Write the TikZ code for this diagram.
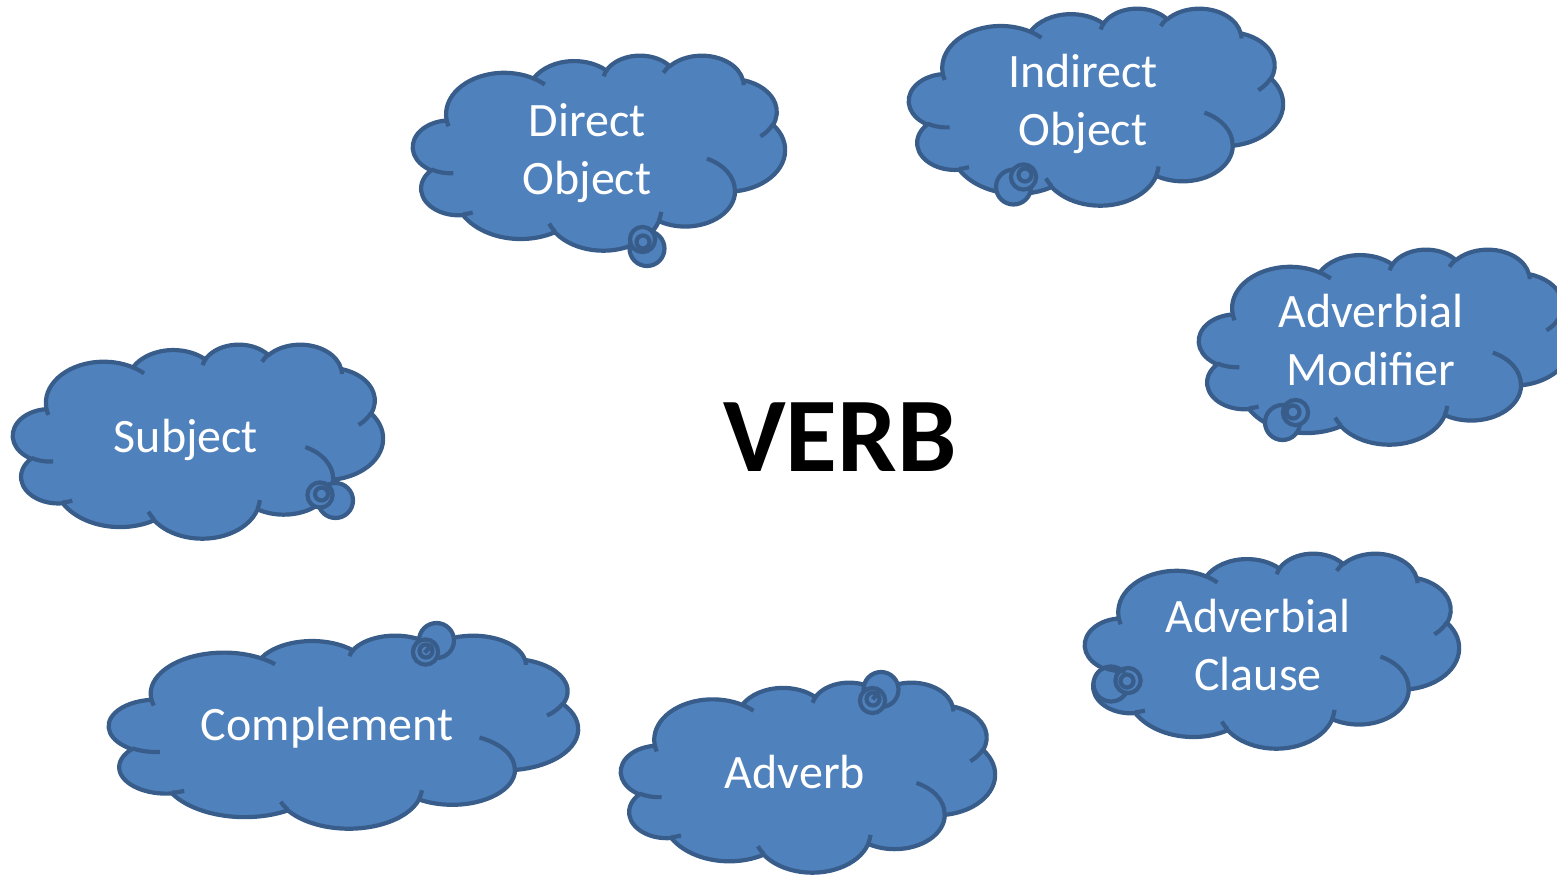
\documentclass[tikz,border=0pt]{standalone}
\usepackage{fontspec}
\setmainfont{Carlito}
\definecolor{cloudblue}{HTML}{4F81BD}
\definecolor{cloudedge}{HTML}{385D8A}
\tikzset{
  cloudbody/.style={fill=cloudblue, draw=cloudedge, line width=4.2pt, line join=round},
  cloudmark/.style={draw=cloudedge, line width=4.2pt},
  bubble/.style={fill=cloudblue, draw=cloudedge, line width=4.2pt},
  cloudtext/.style={text=white, font=\fontsize{48}{58}\selectfont, anchor=base, inner sep=0pt},
  verbtext/.style={text=black, font=\fontsize{106}{120}\selectfont\bfseries, anchor=base, inner sep=0pt},
}
% DrawingML arcTo: wR, hR, stAng, swAng (true angles) -> TikZ parametric arc
\newcommand\ooarc[4]{arc[x radius=#1, y radius=#2,
  start angle={atan2((#1)*sin(#3),(#2)*cos(#3))},
  delta angle={mod(atan2((#1)*sin((#3)+(#4)),(#2)*cos((#3)+(#4)))-atan2((#1)*sin(#3),(#2)*cos(#3))+720,360)}]}
\newcommand\cloudoutline{(39,143.7)
  \ooarc{67.53}{91.90}{-190.4875}{123.7805}
  \ooarc{53.33}{72.67}{-144.1024}{89.9452}
  \ooarc{43.65}{59.45}{-145.8079}{99.7230}
  \ooarc{48.57}{65.95}{-130.9861}{117.2417}
  \ooarc{53.33}{72.73}{-78.7089}{109.0269}
  \ooarc{67.75}{92.20}{-46.2673}{130.269}
  \ooarc{57.85}{78.67}{0.6250}{114.0333}
  \ooarc{67.52}{92.15}{22.4516}{115.1726}
  \ooarc{77.20}{105.43}{66.2426}{75.7110}
  \ooarc{43.60}{59.18}{-274.9421}{146.7356}
  \ooarc{43.45}{59.45}{-246.8285}{152.5189} -- cycle}
\newcommand\cloudmarks{
  (46.93,261.77) \ooarc{43.45}{59.45}{86.742}{26.4295}
  (69.28,348.99) \ooarc{43.60}{59.18}{73.6105}{11.4475}
  (164.78,390.90) \ooarc{67.52}{92.15}{137.6242}{14.0811}
  (288.27,347.51) \ooarc{67.52}{92.15}{6.4533}{15.9984}
  (341.29,229.54) \ooarc{57.85}{78.67}{-70.2924}{70.9174}
  (417.98,153.54) \ooarc{53.33}{72.73}{30.3180}{27.7515}
  (383.24,54.26) \ooarc{48.57}{65.95}{-13.7443}{14.8622}
  (290.78,39.52) \ooarc{48.57}{65.95}{-149.1815}{18.1954}
  (221.41,47.20) \ooarc{43.65}{59.45}{-163.4943}{17.6864}
  (140.00,51.92) \ooarc{67.53}{91.90}{-66.7070}{12.3194}
  (41.27,157.89) \ooarc{67.53}{91.90}{157.6544}{11.8582}}
% #1,#2 top-left corner; #3,#4 width and height
\newcommand\thoughtcloud[4]{%
  \begin{scope}[shift={(#1,#2)}, xscale=#3/432, yscale=#4/432]
    \path[cloudbody] \cloudoutline;
  \end{scope}}
\newcommand\cloudmarkings[4]{%
  \begin{scope}[shift={(#1,#2)}, xscale=#3/432, yscale=#4/432]
    \path[cloudmark] \cloudmarks;
  \end{scope}}
% bubble centres: big, medium, small
\newcommand\bubbles[6]{%
  \path[bubble] (#1,#2) circle[radius=17.5];
  \path[bubble] (#3,#4) circle[radius=12.6];
  \path[bubble] (#5,#6) circle[radius=6.5];}
\begin{document}
\begin{tikzpicture}[x=1pt, y=-1pt]
  \useasboundingbox (0,0) rectangle (1557,875);
  % Direct Object
  \thoughtcloud{413}{55}{372}{195}
  \bubbles{647}{248.5}{642.5}{239.5}{643}{242}
  \cloudmarkings{413}{55}{372}{195}
  % Indirect Object
  \thoughtcloud{909}{8}{374}{197}
  \bubbles{1013.5}{187}{1023.5}{177}{1025}{175}
  \cloudmarkings{909}{8}{374}{197}
  % Adverbial Modifier
  \thoughtcloud{1199}{249}{372}{195}
  \bubbles{1282.5}{422.5}{1295.5}{412.5}{1293}{412}
  \cloudmarkings{1199}{249}{372}{195}
  % Subject
  \thoughtcloud{13}{344}{370}{194}
  \bubbles{335.5}{500.5}{320}{495}{321.5}{494}
  \cloudmarkings{13}{344}{370}{194}
  % Adverbial Clause
  \thoughtcloud{1085}{553}{374}{195}
  \bubbles{1111}{684}{1128}{680.5}{1127}{681}
  \cloudmarkings{1085}{553}{374}{195}
  % Complement
  \thoughtcloud{109}{635}{469}{193}
  \bubbles{436.5}{640.5}{425.5}{652}{426}{651}
  \cloudmarkings{109}{635}{469}{193}
  % Adverb
  \thoughtcloud{621}{682}{374}{190}
  \bubbles{881}{689.5}{872.5}{700.5}{873}{699}
  \cloudmarkings{621}{682}{374}{190}

  \node[cloudtext] (dobj) at (587,136.7) {\begin{tabular}[t]{@{}c@{}}Direct\\Object\end{tabular}};
  \node[cloudtext] (iobj) at (1083,87.7) {\begin{tabular}[t]{@{}c@{}}Indirect\\Object\end{tabular}};
  \node[cloudtext] (advmod) at (1371,327.7) {\begin{tabular}[t]{@{}c@{}}Adverbial\\Modifier\end{tabular}};
  \node[cloudtext] (subj) at (186,452.7) {Subject};
  \node[cloudtext] (advcl) at (1258,632.7) {\begin{tabular}[t]{@{}c@{}}Adverbial\\Clause\end{tabular}};
  \node[cloudtext] (compl) at (327,740) {Complement};
  \node[cloudtext] (adv) at (795,788.3) {Adverb};
  \node[verbtext] (verb) at (840,471) {VERB};
\end{tikzpicture}
\end{document}
